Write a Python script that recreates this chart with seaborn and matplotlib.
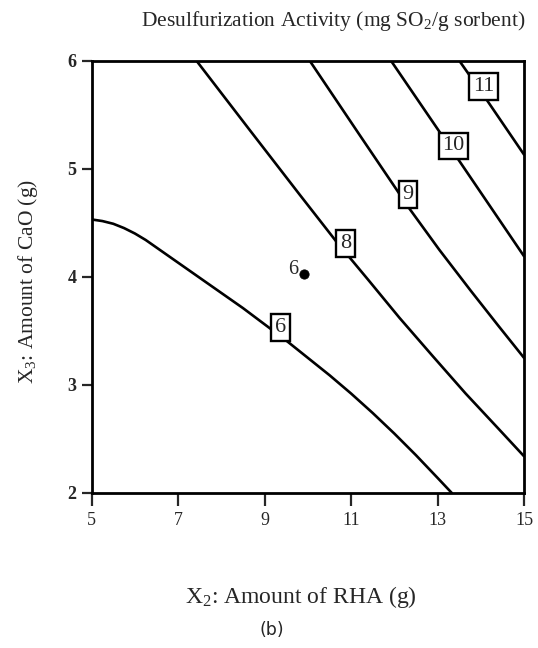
import numpy as np
import pandas as pd
import matplotlib
matplotlib.use("Agg")
import matplotlib.pyplot as plt
import seaborn as sns

# ---- data ----
levels = ["6", "8", "9", "10", "11"]

c6_x = [5.0, 5.25, 5.5, 5.75, 6.0, 6.25, 6.5, 7.0, 7.5, 8.0, 8.5, 9.0, 9.5, 10.0, 10.5,
        11.0, 11.5, 12.0, 12.5, 13.0, 13.33]
c6_y = [4.53, 4.515, 4.49, 4.45, 4.40, 4.34, 4.27, 4.13, 3.99, 3.85, 3.71, 3.56, 3.41, 3.25, 3.09,
        2.92, 2.74, 2.55, 2.35, 2.14, 2.00]

c8_x = [7.42, 8.65, 9.81, 10.65, 11.40, 12.12, 12.88, 13.65, 14.42, 15.0]
c8_y = [6.00, 5.36, 4.76, 4.33, 3.97, 3.62, 3.27, 2.92, 2.59, 2.34]

c9_x = [10.04, 11.20, 12.35, 13.04, 13.77, 14.40, 15.0]
c9_y = [6.00, 5.31, 4.63, 4.25, 3.87, 3.55, 3.25]

c10_x = [11.92, 13.20, 15.0]
c10_y = [6.00, 5.25, 4.19]

c11_x = [13.50, 14.08, 15.0]
c11_y = [6.00, 5.67, 5.13]

label_x = [9.36, 10.87, 12.32, 13.37, 14.07]
label_y = [3.53, 4.31, 4.76, 5.21, 5.76]

point_x = [9.90]
point_y = [4.025]
point_label = ["6"]

x_ticks = [5, 7, 9, 11, 13, 15]
y_ticks = [2, 3, 4, 5, 6]

# ---- build long-form table ----
frames = []
for lev, xs, ys in zip(levels, [c6_x, c8_x, c9_x, c10_x, c11_x],
                       [c6_y, c8_y, c9_y, c10_y, c11_y]):
    frames.append(pd.DataFrame({"x": xs, "y": ys, "level": lev,
                                "order": range(len(xs))}))
df = pd.concat(frames, ignore_index=True)

sns.set_style("ticks")
plt.rcParams["font.family"] = ["Liberation Serif", "DejaVu Serif"]
plt.rcParams["mathtext.fontset"] = "custom"
plt.rcParams["mathtext.rm"] = "Liberation Serif"
plt.rcParams["mathtext.it"] = "Liberation Serif:italic"

fig = plt.figure(figsize=(5.38, 6.48), dpi=100)
ax = fig.add_axes([0.1704, 0.2392, 0.974 - 0.1704, 0.9066 - 0.2392])

sns.lineplot(data=df, x="x", y="y", units="level", estimator=None, sort=False,
             color="black", linewidth=1.9, ax=ax, legend=False)

for lab, lx, ly in zip(levels, label_x, label_y):
    ax.text(lx, ly, lab, ha="center", va="center", fontsize=16, zorder=5,
            bbox=dict(boxstyle="square,pad=0.17", fc="white", ec="black", lw=1.7))

sns.scatterplot(x=point_x, y=point_y, color="black", s=45, edgecolor="black",
                ax=ax, legend=False, zorder=6)
for px, py, pl in zip(point_x, point_y, point_label):
    ax.text(px - 0.12, py + 0.04, pl, ha="right", va="center", fontsize=14.5)

ax.set_xlim(5, 15)
ax.set_ylim(2, 6)
ax.set_xticks(x_ticks)
ax.set_yticks(y_ticks)
ax.set_xticklabels([str(t) for t in x_ticks], fontsize=13)
ax.set_yticklabels([str(t) for t in y_ticks], fontsize=13, fontweight="bold")
ax.tick_params(axis="x", direction="out", length=9, width=1.6, pad=5)
ax.tick_params(axis="y", direction="out", length=7, width=1.6, pad=4)
for sp in ax.spines.values():
    sp.set_visible(True)
    sp.set_linewidth(2.0)
    sp.set_color("black")
ax.set_xlabel("")
ax.set_ylabel("")

fig.text(0.62, 0.968, r"Desulfurization Activity (mg SO$_2$/g sorbent)",
         ha="center", va="center", fontsize=15.5)
fig.text(0.56, 0.079, r"X$_2$: Amount of RHA (g)", ha="center", va="center", fontsize=17)
fig.text(0.052, 0.565, r"X$_3$: Amount of CaO (g)", ha="center", va="center",
         rotation=90, fontsize=15.5)
fig.text(0.505, 0.028, "(b)", ha="center", va="center", fontsize=12.5,
         family="DejaVu Sans")

fig.savefig("out.png", dpi=100)
